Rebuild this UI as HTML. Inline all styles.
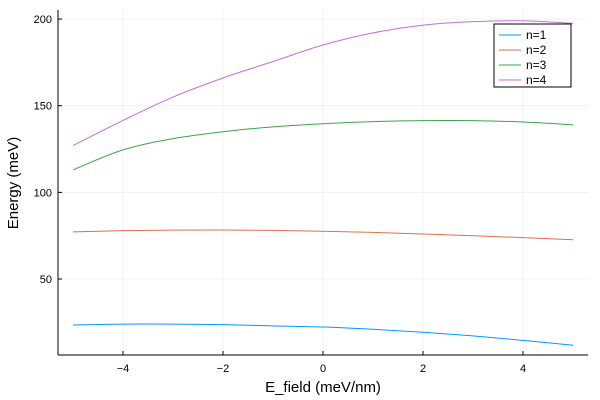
<!DOCTYPE html>
<html><head><meta charset="utf-8">
<style>
html,body{margin:0;padding:0;background:#fff;}
svg{display:block;font-family:"Liberation Sans",sans-serif;}
</style></head>
<body>
<svg id="chart" width="600" height="400" viewBox="0 0 600 400" xmlns="http://www.w3.org/2000/svg">
</svg>
<script>
const xValues = [-5,-4,-3,-2,-1,0,1,2,3,4,5];
const n1 = [23.5,24,24,23.7,23,22.3,21,19.3,17.2,14.6,11.8];
const n2 = [77.2,77.9,78.2,78.3,78.1,77.6,76.9,76,75,73.9,72.7];
const n3 = [113,124.5,131,135,137.8,139.6,140.8,141.4,141.4,140.6,139];
const n4 = [127,141.5,155,166,175.5,185,192,196.5,198.5,199,197.5];
const seriesNames = ["n=1","n=2","n=3","n=4"];
const seriesColors = ["#009af9","#e26f46","#3da44d","#c271d2"];
const xTicks = [-4,-2,0,2,4];
const yTicks = [50,100,150,200];

const svg = document.getElementById('chart');
const NS = "http://www.w3.org/2000/svg";
const X0 = 58, X1 = 588, Y0 = 10, Y1 = 355;
function sx(v){ return 323 + v*50; }
function sy(v){ return 365.7 - v*1.7333; }
function mk(tag, attrs){ const e=document.createElementNS(NS,tag); for(const k in attrs) e.setAttribute(k,attrs[k]); svg.appendChild(e); return e; }

xTicks.forEach(t=>{
  const g = mk('line',{x1:sx(t),x2:sx(t),y1:Y0,y2:Y1,stroke:'#000','stroke-opacity':0.1,'stroke-width':0.5});
  
  
});
yTicks.forEach(t=>{
  const g = mk('line',{x1:X0,x2:X1,y1:sy(t),y2:sy(t),stroke:'#000','stroke-opacity':0.1,'stroke-width':0.5});
  
  
});
const ax = mk('line',{x1:X0,x2:X1,y1:Y1,y2:Y1,stroke:'#000','stroke-width':1});


const ay = mk('line',{x1:X0,x2:X0,y1:Y0,y2:Y1,stroke:'#000','stroke-width':1});



xTicks.forEach(t=>{
  const tk = mk('line',{x1:sx(t),x2:sx(t),y1:Y1,y2:Y1-4,stroke:'#000'});
  
  
  const lb = mk('text',{x:sx(t),y:372,'font-size':11,'text-anchor':'middle',fill:'#000'});
  lb.textContent = (t<0?'\u2212'+Math.abs(t):t);
  
  
});
yTicks.forEach(t=>{
  const tk = mk('line',{x1:X0,x2:X0+4,y1:sy(t),y2:sy(t),stroke:'#000'});
  
  
  const lb = mk('text',{x:52,y:sy(t)+4,'font-size':11,'text-anchor':'end',fill:'#000'});
  lb.textContent = t;
  
  
});
const xt = mk('text',{x:323,y:392,'font-size':15,'text-anchor':'middle'});
xt.textContent = 'E_field (meV/nm)';


const yt = mk('text',{x:18,y:183,'font-size':15,'text-anchor':'middle',transform:'rotate(-90 18 183)'});
yt.textContent = 'Energy (meV)';



function smoothPath(ys){
  const p = xValues.map((x,i)=>[sx(x),sy(ys[i])]);
  let d = 'M'+p[0][0]+','+p[0][1];
  for(let i=0;i<p.length-1;i++){
    const a=p[Math.max(0,i-1)], b=p[i], c=p[i+1], e=p[Math.min(p.length-1,i+2)];
    const c1=[b[0]+(c[0]-a[0])/6, b[1]+(c[1]-a[1])/6];
    const c2=[c[0]-(e[0]-b[0])/6, c[1]-(e[1]-b[1])/6];
    d += ' C'+c1[0]+','+c1[1]+' '+c2[0]+','+c2[1]+' '+c[0]+','+c[1];
  }
  return d;
}
[n1,n2,n3,n4].forEach((ys,i)=>{
  const pth = mk('path',{d:smoothPath(ys),fill:'none',stroke:seriesColors[i],'stroke-width':1});
  
  
});

const lg = mk('rect',{x:494,y:24,width:77,height:63,fill:'#fff',stroke:'#000','stroke-width':1});


seriesNames.forEach((nm,i)=>{
  const y = 35 + i*15;
  const l = mk('line',{x1:499,x2:521,y1:y,y2:y,stroke:seriesColors[i],'stroke-width':1});
  
  
  const t = mk('text',{x:526,y:y+4,'font-size':12});
  t.textContent = nm;
  
  
});
</script>
</body></html>
